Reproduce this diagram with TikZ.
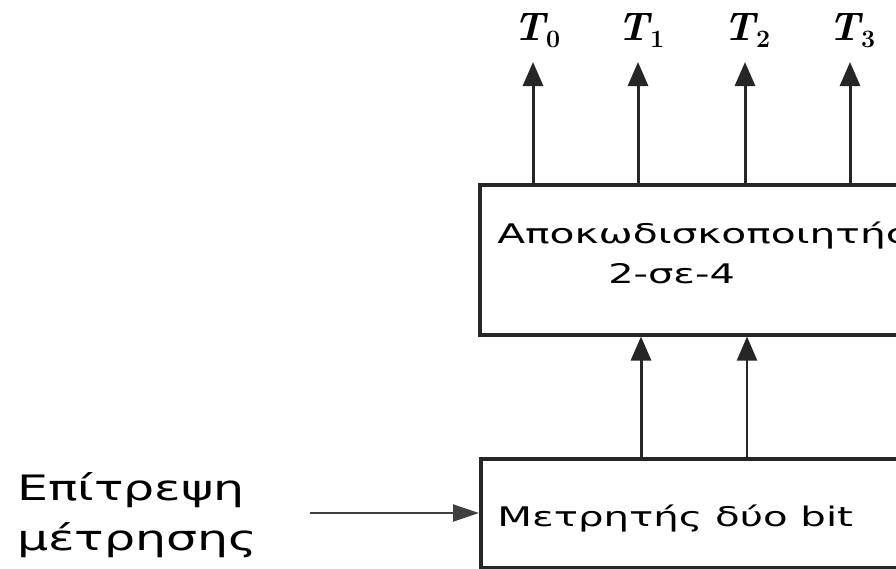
\documentclass[tikz,border=0pt]{standalone}
\usepackage{fontspec}
\setmainfont{DejaVu Sans}
\newfontfamily\lmfont{Latin Modern Roman}
\usetikzlibrary{arrows.meta}
\tikzset{
  blk/.style={draw=black!85, line width=3.5pt, anchor=north west, inner sep=0pt},
  arr/.style={draw=black!85, line width=3pt, -{Triangle[length=24pt,width=20pt]}},
  inarr/.style={draw=black!75, line width=2pt, -{Triangle[length=26pt,width=17pt]}},
  lbl/.style={inner sep=0pt, anchor=base west, text=black, transform shape},
  tl/.style={inner sep=0pt, anchor=base west},
}
\newcommand{\Tlab}[1]{{\lmfont\fontsize{40}{42}\selectfont\bfseries\itshape T}\kern1pt\raisebox{-7pt}{\lmfont\fontsize{25}{27}\selectfont\bfseries #1}}
\begin{document}
\begin{tikzpicture}[x=1pt,y=-1pt]
\useasboundingbox (0,0) rectangle (896,568);
\clip (0,0) rectangle (896,568);
\fill[white] (0,0) rectangle (896,568);
% boxes
\node[blk, minimum width=460pt, minimum height=150pt] (dec) at (478,183) {};
\node[blk, minimum width=460pt, minimum height=109pt] (cnt) at (479,457) {};
% box texts
\node[lbl, font=\fontsize{27}{30}\selectfont, xscale=1.51] (dectxt) at (497,243) {Αποκωδισκοποιητής};
\node[lbl, font=\fontsize{27}{30}\selectfont, xscale=1.48] (dectxt2) at (608,283) {2-σε-4};
\node[lbl, font=\fontsize{27}{30}\selectfont, xscale=1.49] (cnttxt) at (497,526) {Μετρητής δύο bit};
% input text
\node[lbl, font=\fontsize{35}{38}\selectfont, xscale=1.4] (en1) at (17,500) {Επίτρεψη};
\node[lbl, font=\fontsize{35}{38}\selectfont, xscale=1.4] (en2) at (17,550) {μέτρησης};
% output labels
\node[tl] (t0) at (513,40) {\Tlab{0}};
\node[tl] (t1) at (617,40) {\Tlab{1}};
\node[tl] (t2) at (723,40) {\Tlab{2}};
\node[tl] (t3) at (828,40) {\Tlab{3}};
% output arrow tips
\coordinate (o0) at (533,62);
\coordinate (o1) at (638,62);
\coordinate (o2) at (745,62);
\coordinate (o3) at (850,62);
\foreach \i in {0,1,2,3} \draw[arr] (dec.north -| o\i) -- (o\i);
% counter to decoder
\coordinate (m0) at (641,0);
\coordinate (m1) at (747,0);
\draw[arr] (cnt.north -| m0) -- (dec.south -| m0);
\draw[arr, line width=2pt] (cnt.north -| m1) -- (dec.south -| m1);
% input arrow
\coordinate (in) at (310,513);
\draw[inarr] (in) -- (in -| cnt.west);
\end{tikzpicture}
\end{document}
